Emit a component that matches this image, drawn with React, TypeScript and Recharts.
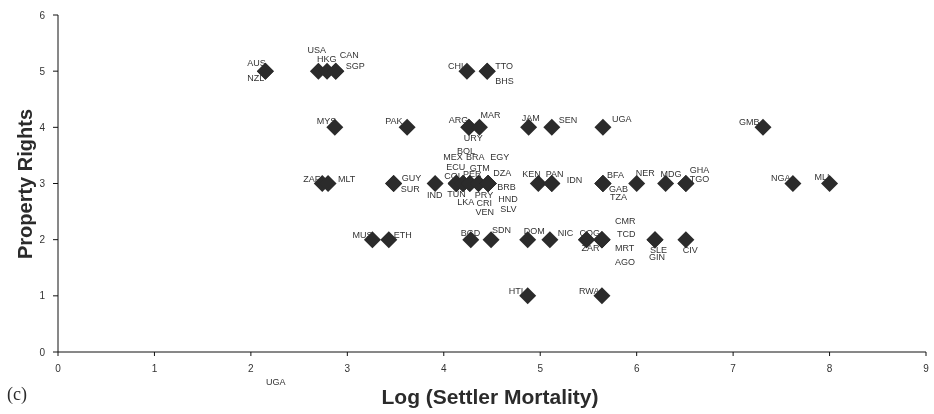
import { ScatterChart, Scatter, XAxis, YAxis } from 'recharts'

// ── Data ─────────────────────────────────────────────────────────────────────

const CODES = [
  'AUS', 'NZL', 'USA', 'HKG', 'CAN', 'SGP', 'CHL', 'TTO', 'BHS',
  'MYS', 'PAK', 'ARG', 'URY', 'MAR', 'JAM', 'SEN', 'UGA', 'GMB',
  'ZAF', 'MLT', 'GUY', 'SUR', 'IND',
  'COL', 'ECU', 'MEX', 'TUN', 'LKA', 'PER', 'BOL', 'BRA', 'GTM', 'PRY', 'CRI', 'VEN',
  'DZA', 'EGY', 'BRB', 'HND', 'SLV',
  'KEN', 'PAN', 'IDN', 'BFA', 'GAB', 'TZA', 'NER', 'MDG', 'GHA', 'TGO', 'NGA', 'MLI',
  'MUS', 'ETH', 'BGD', 'SDN', 'DOM', 'NIC', 'COG', 'ZAR', 'CMR', 'TCD', 'MRT', 'AGO',
  'SLE', 'GIN', 'CIV',
  'HTI', 'RWA',
]

const LOG_MORTALITY = [
  2.15, 2.15, 2.70, 2.79, 2.88, 2.88, 4.24, 4.45, 4.45,
  2.87, 3.62, 4.26, 4.26, 4.37, 4.88, 5.12, 5.65, 7.31,
  2.74, 2.80, 3.48, 3.48, 3.91,
  4.13, 4.13, 4.13, 4.13, 4.13, 4.20, 4.20, 4.20, 4.27, 4.27, 4.36, 4.36,
  4.46, 4.46, 4.46, 4.46, 4.46,
  4.98, 5.12, 5.12, 5.65, 5.65, 5.65, 6.00, 6.30, 6.51, 6.51, 7.62, 8.00,
  3.26, 3.43, 4.28, 4.49, 4.87, 5.10, 5.48, 5.48, 5.64, 5.64, 5.64, 5.64,
  6.19, 6.19, 6.51,
  4.87, 5.64,
]

const PROPERTY_RIGHTS = [
  5, 5, 5, 5, 5, 5, 5, 5, 5,
  4, 4, 4, 4, 4, 4, 4, 4, 4,
  3, 3, 3, 3, 3,
  3, 3, 3, 3, 3, 3, 3, 3, 3, 3, 3, 3,
  3, 3, 3, 3, 3,
  3, 3, 3, 3, 3, 3, 3, 3, 3, 3, 3, 3,
  2, 2, 2, 2, 2, 2, 2, 2, 2, 2, 2, 2,
  2, 2, 2,
  1, 1,
]

const X_TICKS = [0, 1, 2, 3, 4, 5, 6, 7, 8, 9]
const Y_TICKS = [0, 1, 2, 3, 4, 5, 6]

// label placement relative to the marker (left edge, vertical centre), px
const LABEL_OFFSET: Record<string, [number, number]> = {
  AUS: [-18, -8], NZL: [-18, 7], USA: [-11, -21], HKG: [-10, -12], CAN: [4, -16], SGP: [10, -5],
  CHL: [-19, -5], TTO: [8, -5], BHS: [8, 10],
  MYS: [-18, -6], PAK: [-22, -6], ARG: [-20, -7], URY: [-5, 11], MAR: [1, -12],
  JAM: [-7, -9], SEN: [7, -7], UGA: [9, -8], GMB: [-24, -5],
  ZAF: [-19, -5], MLT: [10, -5], GUY: [8, -6], SUR: [7, 5], IND: [-8, 11],
  COL: [-12, -8], ECU: [-10, -17], MEX: [-13, -27], TUN: [-9, 10], LKA: [1, 18],
  PER: [0, -10], BOL: [-6, -33], BRA: [3, -27], GTM: [0, -16], PRY: [5, 11],
  CRI: [-2, 19], VEN: [-3, 28],
  DZA: [5, -11], EGY: [2, -27], BRB: [9, 3], HND: [10, 15], SLV: [12, 25],
  KEN: [-16, -10], PAN: [-6, -10], IDN: [15, -4], BFA: [4, -9], GAB: [6, 5], TZA: [7, 13],
  NER: [-1, -11], MDG: [-5, -10], GHA: [4, -14], TGO: [4, -5], NGA: [-22, -6], MLI: [-15, -7],
  MUS: [-20, -5], ETH: [5, -5], BGD: [-10, -7], SDN: [1, -10], DOM: [-4, -9], NIC: [8, -7],
  COG: [-7, -7], ZAR: [-5, 8], CMR: [13, -19], TCD: [15, -6], MRT: [13, 8], AGO: [13, 22],
  SLE: [-5, 10], GIN: [-6, 17], CIV: [-3, 10],
  HTI: [-19, -5], RWA: [-23, -5],
}

const points = CODES.map((code, i) => ({
  code, x: LOG_MORTALITY[i], y: PROPERTY_RIGHTS[i],
}))

// ── Style ────────────────────────────────────────────────────────────────────

const FONT = '"Liberation Sans", Arial, sans-serif'
const INK  = '#2b2b2b'
const TICK = { fontSize: 10, fill: '#333', fontFamily: FONT }
const W = 934
const H = 414

function Diamond({ cx, cy }: any) {
  const r = 8.5
  return <polygon points={`${cx},${cy - r} ${cx + r},${cy} ${cx},${cy + r} ${cx - r},${cy}`} fill={INK} />
}

function CodeLabel({ cx, cy, payload }: any) {
  const [dx, dy] = LABEL_OFFSET[payload.code] ?? [6, -8]
  return (
    <text x={cx + dx} y={cy + dy} dominantBaseline="central" fontSize={9} fontFamily={FONT} fill="#333">
      {payload.code}
    </text>
  )
}

export default function App() {
  return (
    <div style={{ position: 'absolute', left: 0, top: 0, width: W, height: H, background: '#fff', filter: 'grayscale(1)' }}>
      <ScatterChart width={W} height={H} margin={{ top: 15, right: 8, left: 0, bottom: 0 }}>
        <XAxis
          type="number" dataKey="x" domain={[0, 9]} ticks={X_TICKS} height={62}
          tick={TICK} tickSize={4} tickMargin={9}
          axisLine={{ stroke: '#111' }} tickLine={{ stroke: '#111' }}
        />
        <YAxis
          type="number" dataKey="y" domain={[0, 6]} ticks={Y_TICKS} width={58}
          tick={TICK} tickSize={5} tickMargin={8}
          axisLine={{ stroke: '#111' }} tickLine={{ stroke: '#111' }}
        />
        <Scatter data={points} shape={<CodeLabel />} isAnimationActive={false} />
        <Scatter data={points} shape={<Diamond />} isAnimationActive={false} />
      </ScatterChart>

      <div style={{
        position: 'absolute', left: 25, top: 184, transform: 'translate(-50%, -50%) rotate(-90deg)',
        fontFamily: FONT, fontWeight: 'bold', fontSize: 20, color: INK, whiteSpace: 'nowrap',
      }}>Property Rights</div>
      <div style={{
        position: 'absolute', left: 490, top: 397, transform: 'translate(-50%, -50%)',
        fontFamily: FONT, fontWeight: 'bold', fontSize: 21, color: INK, whiteSpace: 'nowrap',
      }}>Log (Settler Mortality)</div>
      <div style={{
        position: 'absolute', left: 7, top: 394, transform: 'translateY(-50%)',
        fontFamily: '"Liberation Serif", "Times New Roman", serif', fontSize: 18, color: INK,
      }}>(c)</div>
      <div style={{
        position: 'absolute', left: 266, top: 382, transform: 'translateY(-50%)',
        fontFamily: FONT, fontSize: 9, color: '#333',
      }}>UGA</div>
    </div>
  )
}
